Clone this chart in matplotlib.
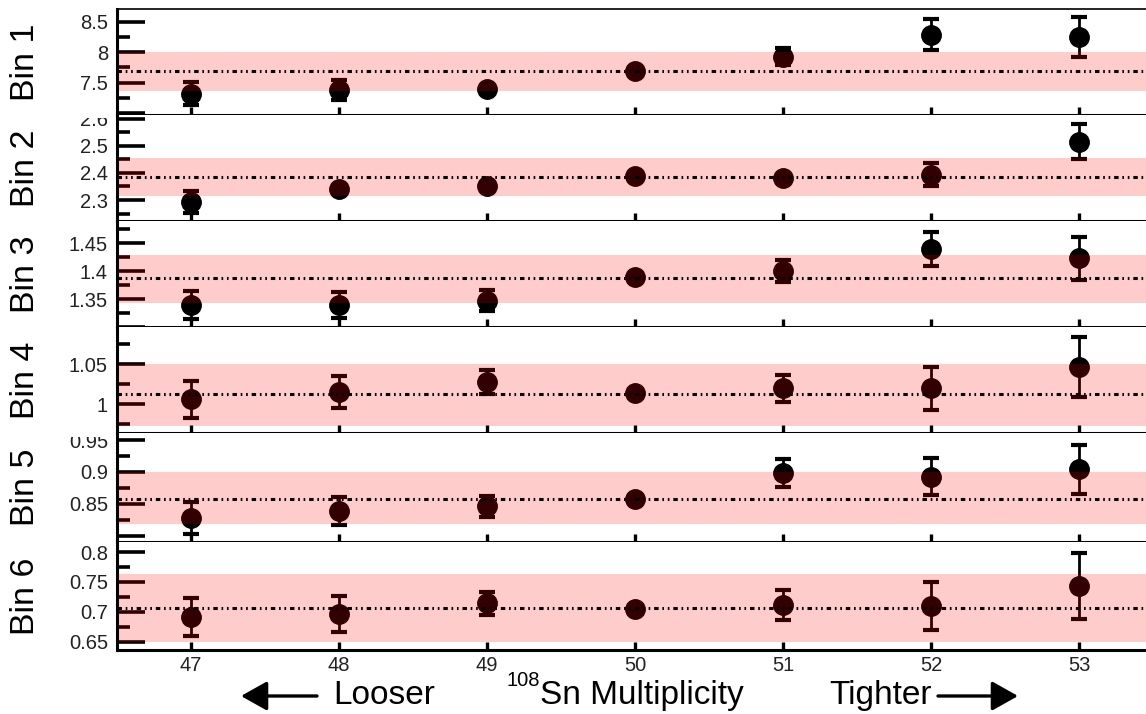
import matplotlib
matplotlib.use("Agg")
import matplotlib.pyplot as plt
import numpy as np
from matplotlib.transforms import Bbox, TransformedBbox
from matplotlib.ticker import MultipleLocator

plt.rcParams['font.family'] = ['Liberation Sans', 'DejaVu Sans']
plt.rcParams['lines.scale_dashes'] = False

# ---- data ----
mult = [47, 48, 49, 50, 51, 52, 53]

bin1_val = [7.32, 7.38, 7.40, 7.70, 7.93, 8.29, 8.25]
bin1_err = [0.19, 0.17, 0.03, 0.02, 0.14, 0.25, 0.33]
bin2_val = [2.294, 2.339, 2.352, 2.389, 2.382, 2.394, 2.515]
bin2_err = [0.040, 0.012, 0.010, 0.008, 0.012, 0.043, 0.065]
bin3_val = [1.339, 1.340, 1.347, 1.389, 1.400, 1.440, 1.423]
bin3_err = [0.025, 0.023, 0.019, 0.006, 0.020, 0.031, 0.039]
bin4_val = [1.006, 1.0155, 1.028, 1.0135, 1.0198, 1.0198, 1.047]
bin4_err = [0.023, 0.020, 0.015, 0.004, 0.017, 0.027, 0.038]
bin5_val = [0.8274, 0.839, 0.8457, 0.858, 0.898, 0.8926, 0.904]
bin5_err = [0.025, 0.022, 0.016, 0.004, 0.022, 0.029, 0.038]
bin6_val = [0.6916, 0.697, 0.714, 0.7045, 0.711, 0.710, 0.743]
bin6_err = [0.032, 0.030, 0.020, 0.004, 0.025, 0.040, 0.055]

# reference value (dash-dot line) and band per bin
ref_line = [7.69, 2.385, 1.387, 1.0126, 0.858, 0.7067]
band_lo = [7.37, 2.316, 1.343, 0.972, 0.8185, 0.650]
band_hi = [8.00, 2.455, 1.429, 1.051, 0.900, 0.763]

bin_names = ["Bin 1", "Bin 2", "Bin 3", "Bin 4", "Bin 5", "Bin 6"]
y_ranges = [(6.97, 8.71), (2.223, 2.613), (1.30, 1.49),
            (0.9635, 1.097), (0.790, 0.961), (0.636, 0.817)]
y_major = [0.5, 0.1, 0.05, 0.05, 0.05, 0.05]
y_labels = [[7.5, 8, 8.5], [2.3, 2.4, 2.5, 2.6], [1.35, 1.4, 1.45],
            [1.0, 1.05], [0.85, 0.9, 0.95], [0.65, 0.7, 0.75, 0.8]]
y_unlabeled = [[7.0], [], [1.3], [], [0.8], []]

vals = [bin1_val, bin2_val, bin3_val, bin4_val, bin5_val, bin6_val]
errs = [bin1_err, bin2_err, bin3_err, bin4_err, bin5_err, bin6_err]

# ---- layout (pixels) ----
W, H = 1146, 714
fig = plt.figure(figsize=(W / 100, H / 100), dpi=100)
tops = [9, 115, 221, 327, 433, 542]
bots = [115, 221, 327, 433, 542, 650]
label_clip = [0, 118, 221, 327, 437, 542]   # where the pad above hides the labels
left_px = 117
right_px = 117 + 7 * 148

axes = []
for i in range(6):
    ax = fig.add_axes([left_px / W, 1 - bots[i] / H,
                       (right_px - left_px) / W, (bots[i] - tops[i]) / H])
    axes.append(ax)

    ax.errorbar(mult, vals[i], yerr=errs[i], fmt='o', color='black',
                ms=14, elinewidth=2.0, capsize=5.8, capthick=3.0, zorder=2)
    ax.axhspan(band_lo[i], band_hi[i], color='red', alpha=0.2, lw=0, zorder=3)
    ax.axhline(ref_line[i], color='black', lw=2.2,
               linestyle=(0, (3.2, 2.7, 1.2, 2.7, 1.2, 2.8)), zorder=4)

    ax.set_xlim(46.5, 53.5)
    ax.set_ylim(*y_ranges[i])

    ticks = y_unlabeled[i] + y_labels[i]
    labels = [''] * len(y_unlabeled[i]) + ['%g' % t for t in y_labels[i]]
    ax.set_yticks(ticks, labels)
    ax.yaxis.set_minor_locator(MultipleLocator(y_major[i] / 2))
    ax.tick_params(axis='y', which='major', direction='in', length=20, width=2.6,
                   labelsize=14.5, labelcolor='#222222', pad=6.5, left=True, right=False)
    ax.tick_params(axis='y', which='minor', direction='in', length=9.5, width=2.6,
                   left=True, right=False)

    ax.set_xticks(mult)
    ax.tick_params(axis='x', which='major', direction='in', length=6, width=2.4,
                   top=False, bottom=True, labelsize=14.5, labelcolor='#222222', pad=4)
    if i < 5:
        ax.tick_params(axis='x', labelbottom=False)

    ax.spines['right'].set_visible(False)
    ax.spines['left'].set_linewidth(2.2)
    ax.spines['left'].set_zorder(5)
    ax.spines['bottom'].set_linewidth(2.2)
    ax.spines['bottom'].set_zorder(5)
    if i == 0:
        ax.spines['top'].set_linewidth(1.2)
    else:
        ax.spines['top'].set_visible(False)

    fig.text(25 / W, 1 - (tops[i] + bots[i]) / 2 / H, bin_names[i], rotation=90,
             ha='center', va='center', fontsize=24.5)

# clip y tick labels at the top of their own panel (like the stacked pads)
for i, ax in enumerate(axes):
    clip = TransformedBbox(Bbox([[0, 0], [1, 1 - label_clip[i] / H]]), fig.transFigure)
    for t in ax.yaxis.get_major_ticks():
        t.label1.set_clip_on(True)
        t.label1.set_clip_box(clip)

# x axis title with arrows
ty = 1 - 704 / H
fig.text(333 / W, ty, "Looser", fontsize=24, ha='left', va='baseline')
fig.text(507 / W, 1 - 686 / H, "108", fontsize=14.5, ha='left', va='baseline')
fig.text(540 / W, ty, "Sn Multiplicity", fontsize=24, ha='left', va='baseline')
fig.text(829 / W, ty, "Tighter", fontsize=24, ha='left', va='baseline')

ay = 1 - 696 / H
arrow = dict(arrowstyle='-|>,head_length=0.8,head_width=0.45', lw=2.4,
             color='black', mutation_scale=20, shrinkA=0, shrinkB=0)
fig.add_artist(matplotlib.patches.FancyArrowPatch((317 / W, ay), (241 / W, ay),
                                                  transform=fig.transFigure, **arrow))
fig.add_artist(matplotlib.patches.FancyArrowPatch((938 / W, ay), (1018 / W, ay),
                                                  transform=fig.transFigure, **arrow))

fig.savefig("out.png", dpi=100)
